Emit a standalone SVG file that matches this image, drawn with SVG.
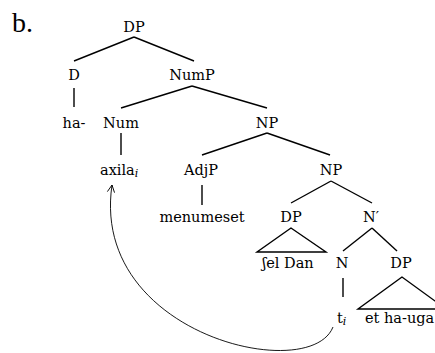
<svg xmlns="http://www.w3.org/2000/svg" width="435" height="353" viewBox="0 0 435 353">
<defs>
<style>
text{font-family:"DejaVu Serif","Liberation Serif",serif;font-size:14.5px;fill:#000}
.c{text-anchor:middle}
.e{stroke:#000;stroke-width:1.4;fill:none}
.t{stroke:#000;stroke-width:1.4;fill:none;stroke-linejoin:miter}
.mv{stroke:#000;stroke-width:0.9;fill:none}
.sub{font-style:italic;font-size:11px}
</style>
<marker id="ah" viewBox="0 0 10 10" refX="9" refY="5" markerWidth="9" markerHeight="9" markerUnits="userSpaceOnUse" orient="auto">
<path d="M1,1 L9,5 L1,9" fill="none" stroke="#000" stroke-width="1"/>
</marker>
</defs>
<rect width="435" height="353" fill="#fff"/>
<text x="12" y="32" style="font-family:'Liberation Serif',serif;font-size:28px">b.</text>
<g id="connectors">
<line class="e" x1="134" y1="37" x2="74" y2="61"/>
<line class="e" x1="134" y1="37" x2="194" y2="61"/>
<line class="e" x1="74" y1="88" x2="74" y2="107"/>
<line class="e" x1="192" y1="86" x2="121" y2="108"/>
<line class="e" x1="192" y1="86" x2="267" y2="108"/>
<line class="e" x1="121" y1="133" x2="121" y2="155"/>
<line class="e" x1="267" y1="133" x2="202" y2="155"/>
<line class="e" x1="267" y1="133" x2="330" y2="155"/>
<line class="e" x1="202" y1="185" x2="202" y2="205"/>
<line class="e" x1="331" y1="181" x2="291" y2="203"/>
<line class="e" x1="331" y1="181" x2="372" y2="203"/>
<polygon class="t" points="291,228 257,252 326,252"/>
<line class="e" x1="372" y1="228" x2="343" y2="251"/>
<line class="e" x1="372" y1="228" x2="397" y2="251"/>
<line class="e" x1="343" y1="278" x2="343" y2="297"/>
<polygon class="t" points="402,277 358,309 446,309"/>
<path class="mv" d="M333,327 C310,385 90,335 112,185" marker-end="url(#ah)"/>
</g>
<g id="n-dp"><text class="c" x="134" y="32">DP</text></g>
<g id="n-d"><text class="c" x="74" y="80">D</text></g>
<g id="n-nump"><text class="c" x="192" y="80">NumP</text></g>
<g id="n-ha"><text class="c" x="74" y="128">ha-</text></g>
<g id="n-num"><text class="c" x="121" y="128">Num</text></g>
<g id="n-np1"><text class="c" x="267" y="128">NP</text></g>
<g id="n-axila"><text x="100" y="175">axila<tspan class="sub" dy="2">i</tspan></text></g>
<g id="n-adjp"><text class="c" x="201" y="175">AdjP</text></g>
<g id="n-np2"><text class="c" x="331" y="175">NP</text></g>
<g id="n-menumeset"><text class="c" x="202" y="222">menumeset</text></g>
<g id="n-dp2"><text class="c" x="291" y="222">DP</text></g>
<g id="n-nbar"><text class="c" x="371" y="222">N′</text></g>
<g id="n-sheldan"><text class="c" x="288" y="268">ʃel Dan</text></g>
<g id="n-n"><text class="c" x="342" y="268">N</text></g>
<g id="n-dp3"><text class="c" x="401" y="268">DP</text></g>
<g id="n-t"><text x="337" y="323">t<tspan class="sub" dy="2">i</tspan></text></g>
<g id="n-ethauga"><text x="365" y="323">et ha-uga</text></g>
</svg>
